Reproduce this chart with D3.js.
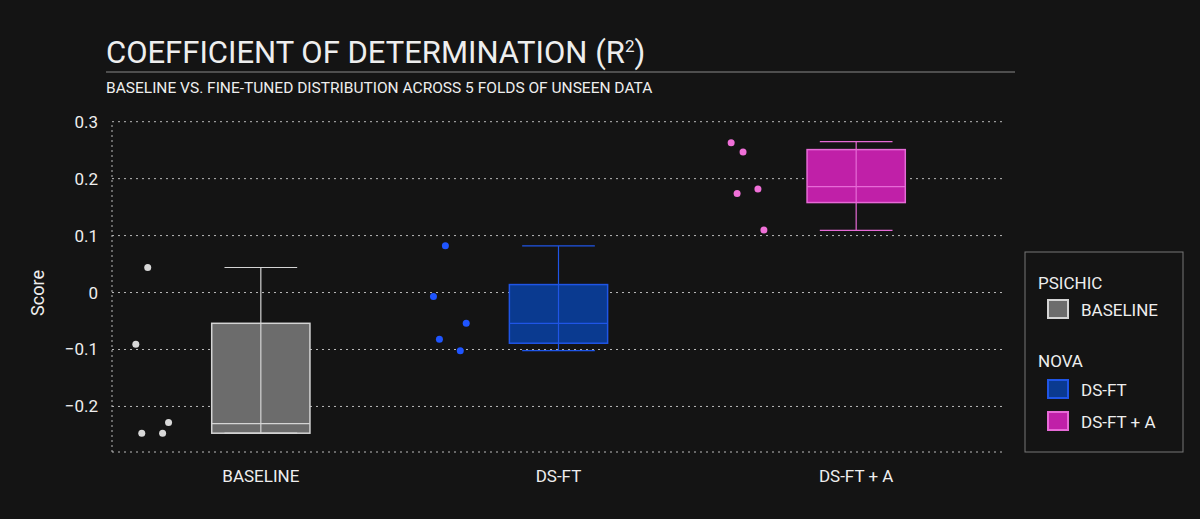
<!DOCTYPE html>
<html><head><meta charset="utf-8">
<script src="https://cdn.jsdelivr.net/npm/d3@7"></script>
<style>
body{margin:0;background:#141414;}
text{font-family:"Liberation Sans Narrow","Roboto",sans-serif;fill:#eee;}
</style></head>
<body><svg id="c" width="1200" height="519"></svg>
<script>
const categories = ["BASELINE", "DS-FT", "DS-FT + A"];
// raw fold scores
const baselinePts = [0.044, -0.091, -0.247, -0.247, -0.228];
const dsftPts = [0.082, -0.007, -0.082, -0.102, -0.054];
const dsftaPts = [0.247, 0.263, 0.174, 0.182, 0.110];
// jitter of each point (fraction of band step, left of the box)
const jitter = [-0.38, -0.42, -0.40, -0.33, -0.31];
// box stats: [lowWhisker, q1, median, q3, highWhisker]
const baselineBox = [-0.247, -0.247, -0.230, -0.054, 0.044];
const dsftBox = [-0.102, -0.089, -0.054, 0.014, 0.082];
const dsftaBox = [0.109, 0.158, 0.186, 0.251, 0.265];
const yTicks = [-0.2, -0.1, 0, 0.1, 0.2, 0.3];

const series = [
  {name: categories[0], pts: baselinePts, box: baselineBox, fill: "#6c6c6c", stroke: "#d4d4d4", dot: "#d8d8d8"},
  {name: categories[1], pts: dsftPts, box: dsftBox, fill: "#0a3a90", stroke: "#1f55e6", dot: "#1f55ff"},
  {name: categories[2], pts: dsftaPts, box: dsftaBox, fill: "#c020a8", stroke: "#e66ad6", dot: "#f070d8"}
];

const svg = d3.select("#c");
const x = d3.scaleBand().domain(categories).range([112, 1005]);
const y = d3.scaleLinear().domain([-0.28, 0.31]).range([452, 116]);

// title
svg.append("text").attr("x", 106).attr("y", 63).attr("font-size", 31).text("COEFFICIENT OF DETERMINATION (R")
  .append("tspan").attr("dy", -11).attr("font-size", 17).text("2")
  .select(function(){return this.parentNode;}).append("tspan").attr("dy", 11).attr("font-size", 31).text(")");
svg.append("line").attr("x1", 106).attr("x2", 1015).attr("y1", 72).attr("y2", 72).attr("stroke", "#888").attr("stroke-width", 1);
svg.append("text").attr("x", 106).attr("y", 93).attr("font-size", 15.5).text("BASELINE VS. FINE-TUNED DISTRIBUTION ACROSS 5 FOLDS OF UNSEEN DATA");

// grid
svg.selectAll(".grid").data(yTicks).enter().append("line")
  .attr("x1", 112).attr("x2", 1005).attr("y1", d => y(d)).attr("y2", d => y(d))
  .attr("stroke", "#bbb").attr("stroke-dasharray", "2,4");
svg.append("line").attr("x1", 112).attr("x2", 112).attr("y1", 125).attr("y2", 452)
  .attr("stroke", "#bbb").attr("stroke-dasharray", "2,3");
svg.append("line").attr("x1", 112).attr("x2", 1005).attr("y1", 452).attr("y2", 452)
  .attr("stroke", "#bbb").attr("stroke-dasharray", "2,4");

svg.selectAll(".yt").data(yTicks).enter().append("text")
  .attr("x", 98).attr("y", d => y(d) + 6).attr("text-anchor", "end").attr("font-size", 17)
  .text(d => d === 0 ? "0" : d3.format(".1f")(d));
svg.append("text").attr("transform", "translate(44,293) rotate(-90)").attr("text-anchor", "middle")
  .attr("font-size", 18).text("Score");
svg.selectAll(".xt").data(categories).enter().append("text")
  .attr("x", d => x(d) + x.bandwidth() / 2).attr("y", 482).attr("text-anchor", "middle")
  .attr("font-size", 17).text(d => d);

const bw = x.bandwidth() * 0.33;
series.forEach(s => {
  const cx = x(s.name) + x.bandwidth() / 2;
  const g = svg.append("g");
  g.append("rect").attr("x", cx - bw / 2).attr("width", bw)
    .attr("y", y(s.box[3])).attr("height", y(s.box[1]) - y(s.box[3]))
    .attr("fill", s.fill).attr("stroke", s.stroke).attr("stroke-width", 1.5);
  g.append("line").attr("x1", cx).attr("x2", cx).attr("y1", y(s.box[4])).attr("y2", y(s.box[0]))
    .attr("stroke", s.stroke).attr("stroke-width", 1.2);
  g.append("line").attr("x1", cx - bw / 2).attr("x2", cx + bw / 2).attr("y1", y(s.box[2])).attr("y2", y(s.box[2]))
    .attr("stroke", s.stroke).attr("stroke-width", 1.2);
  [s.box[0], s.box[4]].forEach(v => g.append("line").attr("x1", cx - bw * 0.37).attr("x2", cx + bw * 0.37)
    .attr("y1", y(v)).attr("y2", y(v)).attr("stroke", s.stroke).attr("stroke-width", 1.2));
  g.selectAll("circle").data(s.pts).enter().append("circle")
    .attr("cx", (d, i) => cx + jitter[i] * x.step()).attr("cy", d => y(d)).attr("r", 3.5).attr("fill", s.dot);
});

// legend
const lg = svg.append("g");
lg.append("rect").attr("x", 1025).attr("y", 252).attr("width", 158).attr("height", 200)
  .attr("fill", "#141414").attr("stroke", "#777");
lg.append("text").attr("x", 1038).attr("y", 289).attr("font-size", 17).text("PSICHIC");
lg.append("text").attr("x", 1038).attr("y", 367).attr("font-size", 17).text("NOVA");
[[series[0], 310], [series[1], 390], [series[2], 422]].forEach(([s, yy]) => {
  lg.append("rect").attr("x", 1048).attr("y", yy - 10).attr("width", 20).attr("height", 18)
    .attr("fill", s.fill).attr("stroke", s.stroke).attr("stroke-width", 2);
  lg.append("text").attr("x", 1081).attr("y", yy + 6).attr("font-size", 17).text(s.name);
});
</script></body></html>
